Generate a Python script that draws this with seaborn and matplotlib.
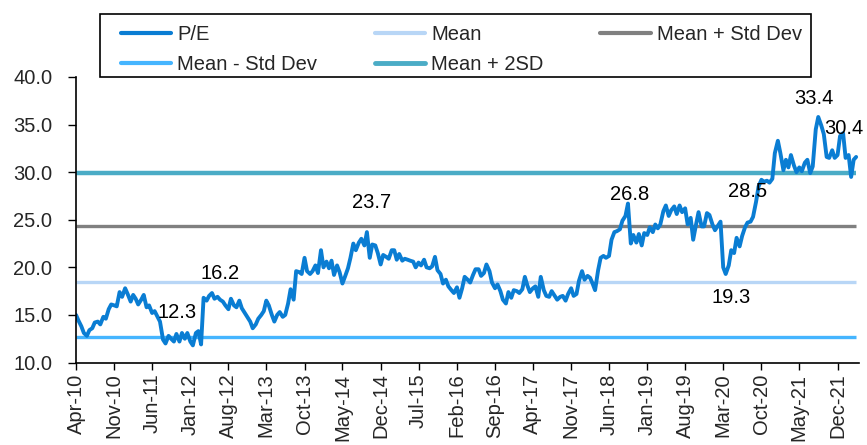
import matplotlib
matplotlib.use("Agg")
import matplotlib.pyplot as plt
import matplotlib.dates as mdates
from matplotlib.ticker import FormatStrFormatter
from matplotlib.lines import Line2D
from matplotlib.patches import Rectangle
import seaborn as sns
import pandas as pd

# ---------------- data ----------------
# P/E readings, semi-monthly from Apr-2010
start_date = "2010-04-01"
pe = [
    15.0, 14.4, 13.8, 13.1, 12.8, 13.4, 13.6, 14.2, 14.3, 14.0,
    14.8, 14.6, 15.6, 16.1, 16.0, 15.9, 17.4, 16.9, 17.8, 17.2,
    16.4, 17.1, 16.7, 16.1, 16.6, 17.1, 15.8, 16.0, 15.2, 15.4,
    14.8, 14.3, 12.4, 12.0, 12.8, 12.5, 12.2, 13.0, 12.2, 13.1,
    12.5, 13.1, 12.2, 11.8, 13.1, 13.3, 11.9, 16.8, 16.5, 17.0,
    17.3, 16.7, 16.9, 16.6, 16.4, 16.0, 15.6, 16.7, 16.0, 15.8,
    16.5, 15.7, 15.2, 14.8, 14.3, 13.6, 14.0, 14.6, 15.0, 15.4,
    16.5, 16.0, 15.0, 14.3, 15.0, 15.3, 14.8, 15.0, 16.2, 17.7,
    16.6, 19.6, 19.5, 19.3, 21.0, 19.6, 19.3, 19.6, 20.2, 19.4,
    21.8, 20.0, 20.6, 19.9, 20.7, 19.2, 20.2, 19.5, 18.3, 19.0,
    19.9, 21.0, 22.5, 21.8, 22.6, 23.0, 22.3, 23.7, 21.0, 22.4,
    22.3, 21.5, 20.3, 21.3, 21.1, 20.9, 21.8, 21.8, 20.8, 21.4,
    20.7, 20.9, 20.8, 20.7, 20.6, 20.0, 20.5, 20.2, 20.8, 20.0,
    19.9, 20.1, 21.1, 19.7, 19.3, 18.3, 18.7, 18.0, 17.6, 17.3,
    17.9, 16.8, 17.8, 19.0, 18.7, 18.4, 19.2, 19.8, 19.8, 19.1,
    19.4, 20.3, 19.6, 18.4, 17.8, 18.2, 17.5, 16.6, 16.2, 17.4,
    16.8, 17.6, 17.5, 17.3, 17.7, 19.0, 18.1, 17.4, 17.8, 18.0,
    16.9, 19.0, 17.6, 17.0, 16.9, 17.5, 17.0, 16.6, 16.9, 17.0,
    16.5, 17.2, 17.8, 17.0, 17.2, 18.6, 19.6, 18.7, 19.1, 18.9,
    18.3, 17.6, 19.7, 21.0, 21.2, 21.0, 21.2, 22.9, 23.7, 23.8,
    24.0, 24.9, 25.4, 26.7, 22.5, 23.4, 22.6, 23.5, 22.3, 23.6,
    23.4, 24.2, 23.7, 24.5, 24.1, 24.5, 25.9, 26.5, 25.4, 26.0,
    26.4, 25.6, 26.5, 25.8, 26.2, 24.5, 25.2, 22.9, 24.5, 25.8,
    24.3, 24.3, 25.7, 25.5, 24.5, 23.9, 24.4, 24.8, 20.0, 19.3,
    20.2, 21.8, 21.5, 23.1, 22.2, 23.3, 24.2, 24.7, 24.8, 25.3,
    26.9, 28.5, 29.2, 29.0, 29.1, 28.9, 29.3, 32.0, 33.3, 32.0,
    30.2, 31.3, 30.5, 31.8, 30.7, 30.0, 30.5, 30.1, 31.0, 31.3,
    29.9, 30.6, 34.5, 35.8, 34.9, 34.0, 31.6, 31.5, 32.3, 31.5,
    31.8, 33.8, 34.1, 31.5, 31.8, 29.5, 31.3, 31.6,
]

mean_val = 18.5
plus_std = 24.3
minus_std = 12.7
plus_2sd = 29.9

label_texts = ["12.3", "16.2", "23.7", "26.8", "28.5", "19.3", "33.4", "30.4"]
label_dates = ["2011-10-18", "2012-06-15", "2014-10-12", "2018-09-25",
               "2020-07-18", "2020-04-15", "2021-07-21", "2022-01-07"]
label_y = [15.3, 19.35, 26.8, 27.7, 28.0, 16.8, 37.7, 34.6]

legend_labels = ["P/E", "Mean - Std Dev", "Mean", "Mean + 2SD", "Mean + Std Dev"]

tick_start = "2010-04-01"
n_ticks = 21
x_end = "2022-03-31"

# ---------------- style ----------------
sns.set_style("ticks")
plt.rcParams["font.family"] = ["Liberation Sans", "DejaVu Sans"]
FS = 14.5

col_pe = "#0A7DD3"
col_mean = "#B8D6F6"
col_pstd = "#808080"
col_mstd = "#45B5FF"
col_2sd = "#4BACC6"

df = pd.DataFrame({
    "date": pd.date_range(start_date, periods=len(pe), freq="SMS"),
    "pe": pe,
})
d0, d1 = df["date"].iloc[0], df["date"].iloc[-1]

fig = plt.figure(figsize=(8.67, 4.45), dpi=100)
ax = fig.add_axes([76 / 867, 1 - 362.5 / 445, (859 - 76) / 867, (362.5 - 77) / 445])

ax.hlines(plus_2sd, d0, d1, color=col_2sd, lw=3.2)
ax.hlines(plus_std, d0, d1, color=col_pstd, lw=2.4)
ax.hlines(mean_val, d0, d1, color=col_mean, lw=2.4)
ax.hlines(minus_std, d0, d1, color=col_mstd, lw=2.4)
sns.lineplot(data=df, x="date", y="pe", ax=ax, color=col_pe, lw=2.8, legend=False)

for t, d, y in zip(label_texts, label_dates, label_y):
    ax.text(pd.Timestamp(d), y, t, fontsize=FS, ha="center", va="center", color="black")

ax.set_ylim(10, 40)
ax.set_yticks([10, 15, 20, 25, 30, 35, 40])
ax.yaxis.set_major_formatter(FormatStrFormatter("%.1f"))
ax.set_xlim(pd.Timestamp(tick_start), pd.Timestamp(x_end))
ticks = pd.date_range(tick_start, periods=n_ticks, freq="7MS")
ax.set_xticks(ticks)
ax.xaxis.set_major_formatter(mdates.DateFormatter("%b-%y"))
ax.tick_params(axis="x", rotation=90, labelsize=FS, length=5, width=1, color="black", pad=3)
ax.tick_params(axis="y", labelsize=FS, length=6, width=1, color="black", pad=11)
ax.set_xlabel("")
ax.set_ylabel("")
for s in ["top", "right"]:
    ax.spines[s].set_visible(False)
for s in ["left", "bottom"]:
    ax.spines[s].set_color("black")
    ax.spines[s].set_linewidth(1.2)

hh = [
    Line2D([], [], color=col_pe, lw=3),
    Line2D([], [], color=col_mstd, lw=3),
    Line2D([], [], color=col_mean, lw=3),
    Line2D([], [], color=col_2sd, lw=3.5),
    Line2D([], [], color=col_pstd, lw=3),
]
leg = fig.legend(hh, legend_labels, ncol=3, loc="lower left",
                 bbox_to_anchor=(121 / 867, 1 - 74 / 445, (802 - 121) / 867, 0.1),
                 mode="expand", fontsize=FS, frameon=False,
                 handlelength=2.5, handletextpad=0.3, labelspacing=0.55,
                 borderpad=0, borderaxespad=0)
fig.patches.append(Rectangle((100 / 867, 1 - 77 / 445), 711 / 867, 63 / 445,
                             transform=fig.transFigure, fill=False,
                             edgecolor="black", linewidth=1.2))

fig.savefig("out.png", dpi=100)
